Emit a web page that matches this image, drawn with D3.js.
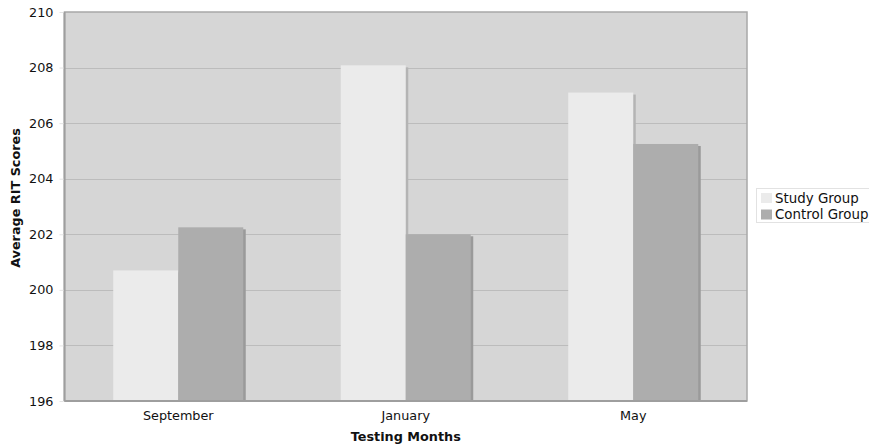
<!DOCTYPE html>
<html>
<head>
<meta charset="utf-8">
<script src="https://cdn.jsdelivr.net/npm/d3@7"></script>
<style>
  html, body { margin: 0; padding: 0; background: #fff; }
  svg { display: block; font-family: "DejaVu Sans", Verdana, sans-serif; }
</style>
</head>
<body>
<svg id="chart" width="869" height="447"></svg>
<script>
// Average RIT scores by testing month
const months = ["September", "January", "May"];
const seriesNames = ["Study Group", "Control Group"];
const studyGroup = [200.7, 208.08, 207.1];
const controlGroup = [202.25, 202.0, 205.25];
const yTicks = [196, 198, 200, 202, 204, 206, 208, 210];

const colors = ["#ebebeb", "#adadad"];
const shadowColors = ["#b4b4b4", "#9a9a9a"];

const svg = d3.select("#chart");
const margin = { left: 64.5, right: 122, top: 12, bottom: 46 };
const W = 869, H = 447;
const plotW = W - margin.left - margin.right;
const plotH = H - margin.top - margin.bottom;

const x0 = d3.scaleBand().domain(months).range([0, plotW]).paddingInner(0).paddingOuter(0);
const groupW = 130;
const x1 = d3.scaleBand().domain(seriesNames).range([0, groupW]);
const y = d3.scaleLinear().domain([196, 210]).range([plotH, 0]);

const g = svg.append("g").attr("transform", `translate(${margin.left},${margin.top})`);

// plot background
g.append("rect").attr("x", 0).attr("y", 0).attr("width", plotW).attr("height", plotH)
  .attr("fill", "#d6d6d6");

// gridlines
g.append("g").selectAll("line").data(yTicks.slice(1, -1)).join("line")
  .attr("x1", 0).attr("x2", plotW)
  .attr("y1", d => Math.round(y(d)) + 0.5).attr("y2", d => Math.round(y(d)) + 0.5)
  .attr("stroke", "#bcbcbc").attr("stroke-width", 1);

// bars
const rows = months.map((m, i) => ({ month: m, values: [studyGroup[i], controlGroup[i]] }));
const groups = g.append("g").selectAll("g").data(rows).join("g")
  .attr("transform", d => `translate(${x0(d.month) + (x0.bandwidth() - groupW) / 2},0)`);

// drop shadows
groups.selectAll("rect.shadow").data(d => d.values.map((v, k) => ({ v, k }))).join("rect")
  .attr("class", "shadow")
  .attr("x", d => x1(seriesNames[d.k]) + 2.5)
  .attr("y", d => y(d.v) + 2)
  .attr("width", x1.bandwidth())
  .attr("height", d => plotH - y(d.v) - 2)
  .attr("fill", d => shadowColors[d.k]);

groups.selectAll("rect.bar").data(d => d.values.map((v, k) => ({ v, k }))).join("rect")
  .attr("class", "bar")
  .attr("x", d => x1(seriesNames[d.k]))
  .attr("y", d => y(d.v))
  .attr("width", x1.bandwidth())
  .attr("height", d => plotH - y(d.v))
  .attr("fill", d => colors[d.k]);

// frame
g.append("rect").attr("x", 0).attr("y", 0).attr("width", plotW).attr("height", plotH)
  .attr("fill", "none").attr("stroke", "#a8a8a8").attr("stroke-width", 1.5);
g.append("line").attr("x1", 0).attr("x2", 0).attr("y1", 0).attr("y2", plotH)
  .attr("stroke", "#9e9e9e").attr("stroke-width", 2);
g.append("line").attr("x1", 0).attr("x2", plotW).attr("y1", plotH).attr("y2", plotH)
  .attr("stroke", "#9e9e9e").attr("stroke-width", 2);

// y axis
const yAxis = d3.axisLeft(y).tickValues(yTicks).tickSize(4).tickPadding(6).tickFormat(d3.format("d"));
const ya = g.append("g").call(yAxis);
ya.select(".domain").remove();
ya.selectAll(".tick line").attr("stroke", "#e4e4e4").attr("transform", "translate(-1,0)");
ya.selectAll(".tick text").attr("font-size", 12.8).attr("fill", "#111")
  .attr("font-family", "DejaVu Sans, Verdana, sans-serif").attr("dx", -1);

// x axis
const xAxis = d3.axisBottom(x0).tickSize(0).tickPadding(10);
const xa = g.append("g").attr("transform", `translate(0,${plotH})`).call(xAxis);
xa.select(".domain").remove();
xa.selectAll(".tick text").attr("font-size", 12.8).attr("fill", "#111")
  .attr("font-family", "DejaVu Sans, Verdana, sans-serif");

// axis titles
svg.append("text").attr("x", margin.left + plotW / 2).attr("y", 441)
  .attr("text-anchor", "middle").attr("font-size", 12.8).attr("font-weight", "bold")
  .attr("fill", "#111").text("Testing Months");
svg.append("text").attr("transform", "translate(20,198) rotate(-90)")
  .attr("text-anchor", "middle").attr("font-size", 12.8).attr("font-weight", "bold")
  .attr("fill", "#111").text("Average RIT Scores");

// legend
const lg = svg.append("g").attr("transform", "translate(756,188)");
lg.append("rect").attr("x", 0.5).attr("y", 0.5).attr("width", 120).attr("height", 34)
  .attr("fill", "#fff").attr("stroke", "#e2e2e2");
seriesNames.forEach((name, i) => {
  lg.append("rect").attr("x", 5).attr("y", 5 + i * 16.5).attr("width", 11).attr("height", 10)
    .attr("fill", colors[i]);
  lg.append("text").attr("x", 19).attr("y", 14.5 + i * 16.5)
    .attr("font-size", 13.4).attr("fill", "#111").text(name);
});
</script>
</body>
</html>
